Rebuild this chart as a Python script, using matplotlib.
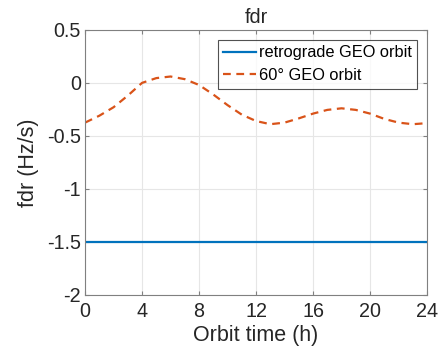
import matplotlib
matplotlib.use('Agg')
import matplotlib.pyplot as plt
import numpy as np

plt.rcParams['font.family'] = ['Liberation Sans', 'DejaVu Sans']

# orbit time (h) and Doppler rate values
t_h = np.arange(0, 25)
fdr_retro = [-1.5] * 25
fdr_60 = [-0.375, -0.31, -0.23, -0.12, 0.0, 0.045, 0.06, 0.035, -0.02, -0.11,
          -0.21, -0.30, -0.36, -0.39, -0.375, -0.335, -0.29, -0.255, -0.24,
          -0.255, -0.29, -0.34, -0.375, -0.39, -0.38]
xticks = [0, 4, 8, 12, 16, 20, 24]
yticks = [-2, -1.5, -1, -0.5, 0, 0.5]
ytick_labels = ['-2', '-1.5', '-1', '-0.5', '0', '0.5']

fig = plt.figure(figsize=(4.43, 3.6), dpi=100)
ax = fig.add_axes([0.192, 0.181, 0.772, 0.736])

ax.plot(t_h, fdr_retro, color='#0072BD', lw=1.6, label='retrograde GEO orbit')
ax.plot(t_h, fdr_60, color='#D95319', lw=1.6, ls=(0, (3.5, 2.5)), label='60° GEO orbit')

ax.set_xlim(0, 24)
ax.set_ylim(-2, 0.5)
ax.set_xticks(xticks)
ax.set_yticks(yticks)
ax.set_yticklabels(ytick_labels)
ax.grid(True, color='#e6e6e6', lw=0.8)
ax.set_axisbelow(True)
for s in ax.spines.values():
    s.set_color('#808080')
    s.set_linewidth(0.8)
ax.tick_params(direction='in', length=3, colors='#808080', labelcolor='#262626',
               labelsize=14.2, top=True, right=True)
ax.tick_params(axis='x', pad=5)
ax.tick_params(axis='y', pad=3)

ax.set_xlabel('Orbit time (h)', fontsize=15.5, color='#262626', labelpad=3)
ax.set_ylabel('fdr (Hz/s)', fontsize=15.5, color='#262626', labelpad=6)
ax.set_title('fdr', fontsize=14.2, color='#262626', pad=5)

leg = ax.legend(loc='upper right', fontsize=11.8, frameon=True, fancybox=False,
                handlelength=2.0, handletextpad=0.15, borderpad=0.35,
                labelspacing=0.45, borderaxespad=0.6)
leg.get_frame().set_edgecolor('#262626')
leg.get_frame().set_linewidth(0.8)

fig.savefig('out.png', dpi=100)
